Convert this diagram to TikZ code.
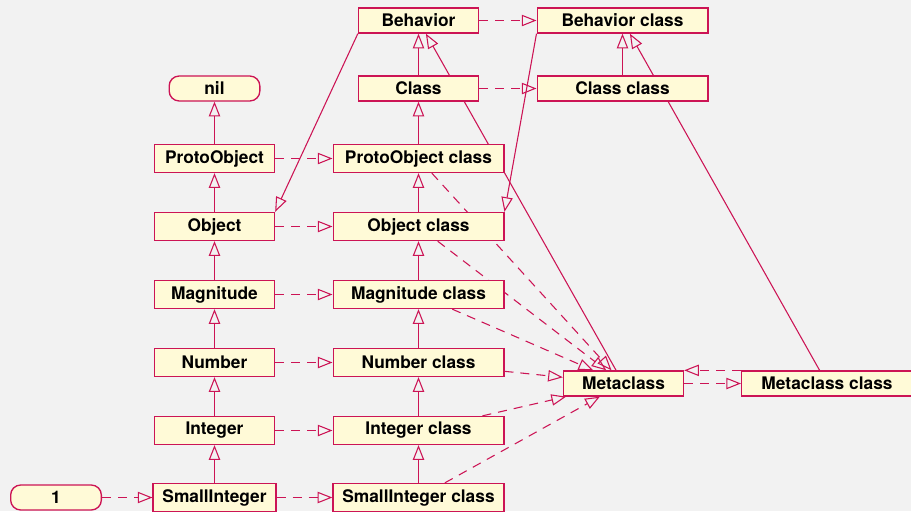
\documentclass[tikz,border=0pt]{standalone}
\usepackage{fontspec}
\setmainfont{TeX Gyre Heros}
\usepackage{xcolor}
\usepackage{tikz}
\usetikzlibrary{arrows.meta}
\definecolor{umlred}{RGB}{204,20,85}
\definecolor{umlfill}{RGB}{255,250,215}
\definecolor{umlback}{RGB}{242,242,242}
\pgfdeclarelayer{bg}
\pgfdeclarelayer{edges}
\pgfsetlayers{bg,edges,main}

\begin{document}
\begin{tikzpicture}[
        x=0.75pt, y=-0.75pt,
        box/.style = {draw=umlred, fill=umlfill, line width=1pt, inner xsep=7pt, inner ysep=0pt,
            font=\bfseries\fontsize{13}{15}\selectfont, minimum width=90pt, minimum height=21pt},
        wide/.style = {box, minimum width=128pt},
        flat/.style = {minimum height=18.75pt},
        inst/.style = {box, flat, minimum width=68pt, rounded corners=7.5pt},
        isa/.style = {draw=umlred, line width=0.8pt, -{Triangle[open, length=11pt, width=8.5pt]}},
        isof/.style = {isa, dash pattern=on 6.75pt off 5.25pt}
    ]
        \begin{pgfonlayer}{bg}
            \fill[umlback] (0,0) rectangle (911,511);
        \end{pgfonlayer}
        \useasboundingbox (0,0) rectangle (911,511);
        % instance side
        \node[inst] (nil) at (214.5,88.5) {nil};
        \node[box] (proto) at (214.5,158.5) {ProtoObject};
        \node[box] (object) at (214.5,226.5) {Object};
        \node[box] (magnitude) at (214.5,294.5) {Magnitude};
        \node[box] (number) at (214.5,362.5) {Number};
        \node[box] (integer) at (214.5,430.5) {Integer};
        \node[box] (small) at (214.5,497.5) {SmallInteger};
        \node[inst] (one) at (56,497.5) {1};
        % class side
        \node[box,flat] (behavior) at (418.5,20.5) {Behavior};
        \node[box,flat] (class) at (418.5,88.5) {Class};
        \node[wide] (protoC) at (418.5,158.5) {ProtoObject class};
        \node[wide] (objectC) at (418.5,226.5) {Object class};
        \node[wide] (magnitudeC) at (418.5,294.5) {Magnitude class};
        \node[wide] (numberC) at (418.5,362.5) {Number class};
        \node[wide] (integerC) at (418.5,430.5) {Integer class};
        \node[wide] (smallC) at (418.5,497.5) {SmallInteger class};
        % metaclass side
        \node[wide,flat] (behaviorC) at (622.5,20.5) {Behavior class};
        \node[wide,flat] (classC) at (622.5,88.5) {Class class};
        \node[box,flat] (meta) at (623.5,383.5) {Metaclass};
        \node[wide,flat] (metaC) at (827,383.5) {Metaclass class};

        \begin{pgfonlayer}{edges}
            \foreach \a/\b in {proto/nil, object/proto, magnitude/object, number/magnitude,
                    integer/number, small/integer, class/behavior, protoC/class, objectC/protoC,
                    magnitudeC/objectC, numberC/magnitudeC, integerC/numberC, smallC/integerC,
                    classC/behaviorC, meta/behavior, metaC/behaviorC}
                \draw[isa] (\a) -- (\b);
            \draw[isa] (behavior.south west) -- (object.north east);
            \draw[isa] (behaviorC.south west) -- (objectC.north east);
            \foreach \a/\b in {one/small, proto/protoC, object/objectC, magnitude/magnitudeC,
                    number/numberC, integer/integerC, small/smallC, behavior/behaviorC,
                    class/classC, protoC/meta, objectC/meta, magnitudeC/meta, numberC/meta,
                    integerC/meta, smallC/meta, meta/metaC}
                \draw[isof] (\a) -- (\b);
            \draw[isof] (metaC.north west) -- (meta.north east);
        \end{pgfonlayer}
    \end{tikzpicture}
\end{document}
